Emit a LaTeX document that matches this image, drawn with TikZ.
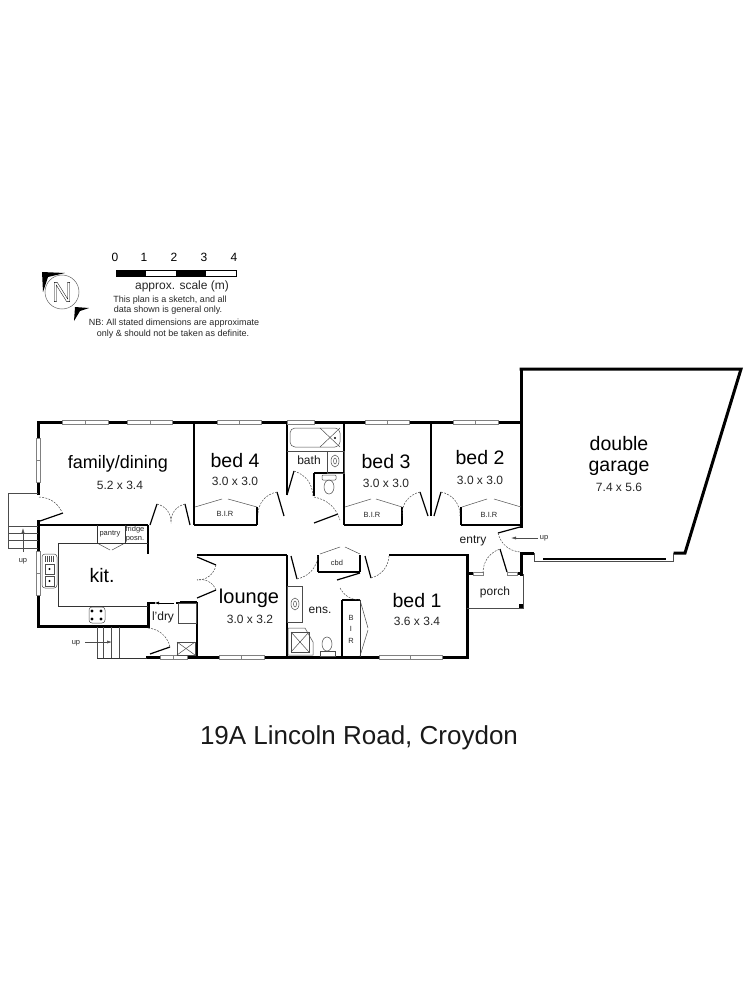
\documentclass[tikz,border=0pt]{standalone}
\usepackage{fontspec}
\setmainfont{Liberation Sans}
\usetikzlibrary{arrows.meta,calc,positioning}
\tikzset{
	wall/.style={line width=3pt,line cap=rect},
	inner/.style={line width=1.5pt},
	bench/.style={line width=.8pt,black!80},
	leaf/.style={line width=1.2pt},
	fixture/.style={line width=.5pt,black!70},
	swing/.style={line width=.5pt,dash pattern=on 2pt off 1.2pt,black!70},
	win/.style={line width=.5pt,draw=black!50,fill=white},
	big/.style={font=\fontsize{19.5}{20}\selectfont},
	size/.style={font=\fontsize{12}{13}\selectfont,text=black!85},
	small/.style={font=\fontsize{12}{13}\selectfont,text=black!90},
	tiny/.style={font=\fontsize{7.5}{8}\selectfont,text=black!85},
	note/.style={font=\fontsize{9}{10}\selectfont,text=black!85}
}
\begin{document}
\begin{tikzpicture}[x=1pt,y=-1pt]
	\useasboundingbox (0,0) rectangle (750,1000);
	% scale bar and north point
	\foreach \a/\b in {0/115,1/144,2/174,3/204,4/234}
	\node[font=\fontsize{12}{13}\selectfont] (tick\a) at (\b,257) {\a};
	\draw[line width=.5pt,fill=white] (116,270) rectangle (236,276);
	\fill (116,270) rectangle (146,276);
	\fill (176,270) rectangle (206,276);
	\node[font=\fontsize{12}{13}\selectfont,text=black!85] (scalelabel) at (182,286) {approx. scale (m)};
	\node[note] (note1) at (170,300) {This plan is a sketch, and all};
	\node[note] (note2) at (168,310) {data shown is general only.};
	\node[note] (note3) at (174,323) {NB: All stated dimensions are approximate};
	\node[note] (note4) at (173,334) {only \& should not be taken as definite.};
	\draw[line width=.5pt,black!60] (62,292) circle (17);
	\node[font=\fontsize{28}{28}\selectfont,inner sep=0pt] (north) at (62,292) {\special{pdf:code 1 Tr 0.3 w}N\special{pdf:code 0 Tr}};
	\fill (42,272) -- (65,273) -- (48,277) -- (43,292) -- cycle;
	\fill (75,307) -- (89,308) -- (80,311) -- (74,321) -- cycle;
	% outer walls
	\draw[wall] (38,493) -- (38,422) -- (521,422);
	\draw[wall] (521,369) -- (521,526);
	\draw[wall] (38,521) -- (38,626) -- (148,626) -- (148,603);
	\draw[wall] (147,657) -- (467,657) -- (467,555);
	\draw[wall] (521,369) -- (741,369) -- (685,553) -- (675,553);
	\draw[wall] (521,553) -- (521,574);
	\draw[wall] (521,553) -- (532,553);
	\draw[wall] (467,573) -- (473,573);
	\draw[wall] (517,573) -- (521,573);
	% inner walls
	\foreach \a/\b/\c/\d in {38/525/148/525,148/525/148/554,
		194/422/194/525,194/525/257/525,257/507/257/525,287/422/287/495,344/422/344/525,344/525/402/525,402/507/402/525,
		431/422/431/516,461/507/461/525,461/525/521/525,314/473/314/496,314/473/344/473,
		197/555/287/555,287/555/287/657,389/555/467/555,197/602/197/657,176/603/197/603,148/603/155/603,180/602/197/602,
		318/555/318/572,318/572/360/572,360/555/360/572,342/600/342/657,342/600/360/600}
	\draw[inner] (\a,\b) -- (\c,\d);
	\foreach \a/\b/\c/\d in {97/525/97/543,58/543/97/543,58/543/58/606,58/606/148/606,97/658/147/658,360/600/360/657}
	\draw[bench] (\a,\b) -- (\c,\d);
	% windows along the walls
	\foreach \a/\b/\c in {62/85/108,127/150/172,217/239/261,365/387/409,453/475/498}
	{
		\draw[win] (\a,420) rectangle (\c,424);
		\draw[win] (\b,420) -- (\b,424);
	}
	\foreach \a/\b/\c in {219/241/264,379/410/442,160/173/187}
	{
		\draw[win] (\a,655) rectangle (\c,659);
		\draw[win] (\b,655) -- (\b,659);
	}
	\draw[win] (287,420) rectangle (314,424);
	\draw[win] (36,438) rectangle (40,482);
	\draw[win] (36,460) -- (40,460);
	\draw[win] (36,551) rectangle (40,595);
	\draw[win] (36,573) -- (40,573);
	\draw[win] (473,572) rectangle (483,575);
	\draw[win] (507,572) rectangle (517,575);
	% doors
	\foreach \a/\b/\c/\d in {40/521/63/513,150/525/157/504,190/525/185/504,284/516/277/492,287/495/294/471,
		314/523/338/514,428/516/420/492,434/516/441/492,197/557/216/565,197/598/216/590,291/556/297/579,
		337/580/360/573,365/556/371/578,498/533/520/527,500/549/507/572,150/654/170/647}
	\draw[leaf] (\a,\b) -- (\c,\d);
	\draw[swing] (39,497) to[bend left=30] (62,512);
	\draw[swing] (157,504) to[bend left=40] (171,523);
	\draw[swing] (185,504) to[bend right=40] (171,523);
	\draw[swing] (277,492) to[bend right=40] (258,515);
	\draw[swing] (294,471) to[bend left=35] (313,496);
	\draw[swing] (314,497) to[bend left=30] (340,520);
	\draw[swing] (420,492) to[bend right=40] (402,516);
	\draw[swing] (441,492) to[bend left=40] (460,516);
	\draw[swing] (216,565) to[bend left=40] (197,580);
	\draw[swing] (216,590) to[bend right=40] (197,580);
	\draw[swing] (297,579) to[bend right=35] (318,556);
	\draw[swing] (340,588) to[bend right=30] (360,600);
	\draw[swing] (371,578) to[bend right=35] (389,556);
	\draw[swing] (498,533) to[bend right=35] (520,552);
	\draw[swing] (483,573) to[bend left=35] (500,549);
	\draw[swing] (148,628) to[bend left=35] (170,647);
	% robe and cupboard doors
	\foreach \a/\b/\c/\d in {195/507/222/499,257/507/228/499,345/507/371/499,402/507/376/499,462/507/487/499,521/507/494/499,
		97/543/110/550,125/543/112/550,320/554/340/547,360/554/345/547,360/600/368/628,360/656/368/630}
	\draw[fixture] (\a,\b) -- (\c,\d);
	% stairs
	\draw[fixture] (38,493) -- (8,493) -- (8,548) -- (38,548);
	\foreach \a in {526,533,540}
	\draw[fixture] (8,\a) -- (38,\a);
	\foreach \a in {97,103,111,119}
	\draw[fixture] (\a,627) -- (\a,658);
	% porch and garage door
	\draw[fixture,line width=.7pt] (467,608) -- (523,608) -- (523,574);
	\fill (519,604) rectangle (523,608);
	\draw[fixture,line width=.7pt] (534,553) -- (534,561) -- (673,561) -- (673,553);
	\draw[inner] (543,559) -- (666,559);
	% fittings
	\draw[bench] (125,525) -- (125,543) -- (97,543);
	\draw[bench] (125,543) -- (148,543);
	\draw[fixture,rounded corners=3pt] (89,607) rectangle (105,623);
	\foreach \a/\b in {92/611,101/611,92/619,101/619}
	\fill (\a,\b) circle (1.7);
	\draw[fixture,rounded corners=3pt] (42,554) rectangle (57,588);
	\draw[fixture] (45,564) rectangle (54,574);
	\draw[fixture] (45,576) rectangle (54,586);
	\fill (49.5,569) circle (1.2);
	\fill (49.5,581) circle (1.2);
	\foreach \a in {45,47,49,51,53}
	\draw[fixture] (\a,556) -- (\a,562);
	\draw[fixture] (178,603) rectangle (196,623);
	\draw[fixture] (177,642) rectangle (195,655);
	\draw[fixture] (177,642) -- (195,655);
	\draw[fixture] (195,642) -- (177,655);
	\draw[fixture,rounded corners=5pt] (290,428) rectangle (340,447);
	\draw[fixture] (320,428) -- (340,447);
	\draw[fixture] (320,447) -- (340,428);
	\fill (335,438) circle (1.2);
	\draw[fixture] (287,451) -- (327,451);
	\draw[fixture] (327,451) rectangle (344,473);
	\draw[fixture] (335,461) ellipse (4 and 6);
	\draw[fixture] (335,461) ellipse (1.5 and 3);
	\draw[fixture,rounded corners=1pt] (322,475) rectangle (336,480);
	\draw[fixture] (329,487) ellipse (5 and 7);
	\draw[fixture] (287,586) rectangle (302,622);
	\draw[fixture] (295,604) ellipse (4 and 6);
	\draw[fixture] (295,604) ellipse (1.5 and 3);
	\draw[fixture] (288,628) -- (305,628) -- (313,642) -- (313,655) -- (288,655) -- cycle;
	\draw[fixture] (291,632) rectangle (309,652);
	\draw[fixture] (291,632) -- (309,652);
	\draw[fixture] (291,652) -- (309,632);
	\draw[fixture] (327,644) ellipse (5 and 7);
	\draw[fixture] (320,651) rectangle (335,656);
	% up arrows
	\draw[fixture,-{Latex[length=5pt,width=3pt]}] (23,552) -- (23,528);
	\draw[fixture,-{Latex[length=5pt,width=3pt]}] (85,642) -- (112,642);
	\draw[fixture,-{Latex[length=5pt,width=3pt]}] (538,538) -- (511,538);
	\draw[black,line width=.8pt,-{Latex[length=5pt,width=3pt]}] (174,603) -- (154,603);
	% room labels
	\node[font=\fontsize{18}{19}\selectfont] (family) at (118,464) {family/dining};
	\node[size] (familysize) at (120,485) {5.2 x 3.4};
	\node[big] (bedfour) at (235,461) {bed 4};
	\node[size] (bedfoursize) at (235,481) {3.0 x 3.0};
	\node[big] (bedthree) at (386,462) {bed 3};
	\node[size] (bedthreesize) at (386,483) {3.0 x 3.0};
	\node[big] (bedtwo) at (480,458) {bed 2};
	\node[size] (bedtwosize) at (480,480) {3.0 x 3.0};
	\node[big] (double) at (619,444) {double};
	\node[big] (garage) at (619,468) {garage};
	\node[size] (garagesize) at (619,487) {7.4 x 5.6};
	\node[big] (kit) at (102,576) {kit.};
	\node[font=\fontsize{20}{21}\selectfont] (lounge) at (249,598) {lounge};
	\node[size] (loungesize) at (250,619) {3.0 x 3.2};
	\node[big] (bedone) at (417,601) {bed 1};
	\node[size] (bedonesize) at (417,621) {3.6 x 3.4};
	\node[small] (bath) at (309,460) {bath};
	\node[small] (ens) at (320,610) {ens.};
	\node[small] (entry) at (473,541) {entry};
	\node[small] (porch) at (495,592) {porch};
	\node[small] (ldry) at (163,617) {l'dry};
	\node[tiny] (pantry) at (110,534) {pantry};
	\node[tiny] (fridge) at (135,530) {fridge};
	\node[tiny] (posn) at (135,539) {posn.};
	\node[tiny] (cbd) at (337,563) {cbd};
	\node[tiny] (birfour) at (225,514) {B.I.R};
	\node[tiny] (birthree) at (372,515) {B.I.R};
	\node[tiny] (birtwo) at (489,515) {B.I.R};
	\node[tiny] (birb) at (351,618) {B};
	\node[tiny] (biri) at (351,629) {I};
	\node[tiny] (birr) at (351,641) {R};
	\node[tiny] (upleft) at (23,561) {up};
	\node[tiny] (upback) at (76,643) {up};
	\node[tiny] (upgarage) at (544,538) {up};
	\node[font=\fontsize{26}{27}\selectfont,text=black!90] (title) at (359,738) {19A Lincoln Road, Croydon};
\end{tikzpicture}
\end{document}
